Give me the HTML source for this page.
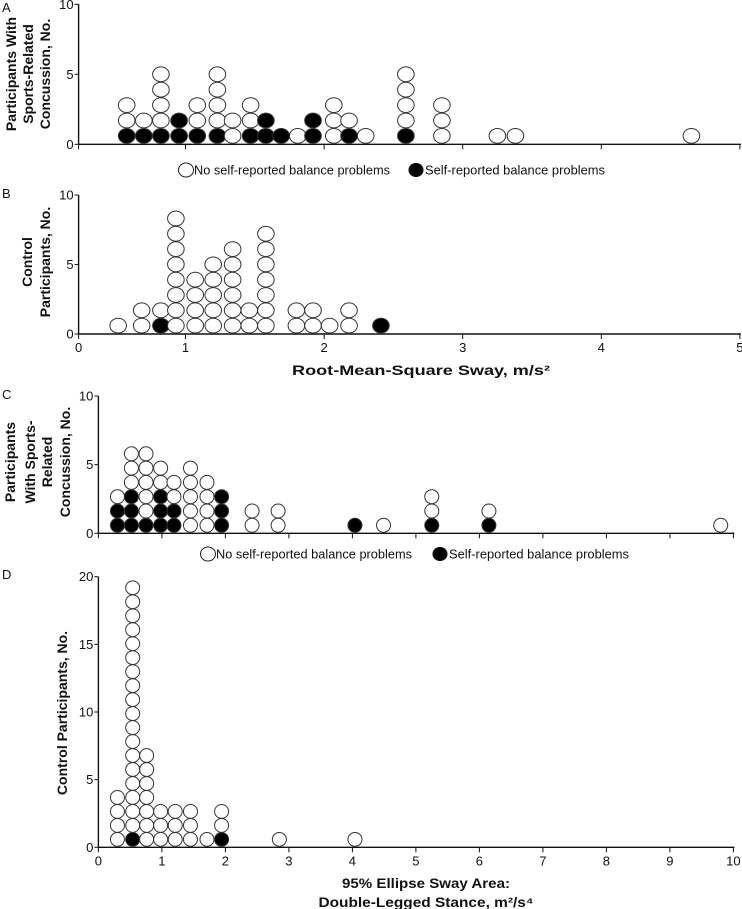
<!DOCTYPE html>
<html><head><meta charset="utf-8"><style>
body{margin:0;background:#fff}
svg{display:block;font-family:"Liberation Sans",sans-serif}
.t{font-size:13px;fill:#111}
.ti{font-size:14px;font-weight:bold;fill:#111}
.lg{font-size:12.5px;fill:#111}
</style></head><body>
<svg id="s" width="742" height="909" viewBox="0 0 742 909" xmlns="http://www.w3.org/2000/svg">
<text x="2" y="12" class="t">A</text>
<text x="2" y="198" class="t">B</text>
<text x="2" y="399" class="t">C</text>
<text x="2" y="579" class="t">D</text>
<g class="ti" text-anchor="middle">
<text transform="translate(16,74) rotate(-90)">Participants With</text>
<text transform="translate(33,74) rotate(-90)">Sports-Related</text>
<text transform="translate(50,74) rotate(-90)">Concussion, No.</text></g>
<g class="ti" text-anchor="middle">
<text transform="translate(32,262) rotate(-90)">Control</text>
<text transform="translate(50,262) rotate(-90)">Participants, No.</text></g>
<g class="ti" text-anchor="middle">
<text transform="translate(15,462) rotate(-90)">Participants</text>
<text transform="translate(35,462) rotate(-90)">With Sports-</text>
<text transform="translate(52,462) rotate(-90)">Related</text>
<text transform="translate(70,462) rotate(-90)">Concussion, No.</text></g>
<g class="ti" text-anchor="middle">
<text transform="translate(67,713) rotate(-90)">Control Participants, No.</text></g>
<text x="421" y="375" class="ti" text-anchor="middle" textLength="258" lengthAdjust="spacingAndGlyphs">Root-Mean-Square Sway, m/s²</text>
<text x="426" y="888" class="ti" text-anchor="middle" textLength="168" lengthAdjust="spacingAndGlyphs">95% Ellipse Sway Area:</text>
<text x="426" y="907" class="ti" text-anchor="middle" textLength="215" lengthAdjust="spacingAndGlyphs">Double-Legged Stance, m²/s⁴</text>
<g>
<ellipse cx="186" cy="170" rx="7.5" ry="7" fill="#fff" stroke="#222"/>
<text x="194" y="174.5" class="lg" textLength="196" lengthAdjust="spacingAndGlyphs">No self-reported balance problems</text>
<ellipse cx="416" cy="170" rx="7.5" ry="7" fill="#000"/>
<text x="425" y="174.5" class="lg" textLength="180" lengthAdjust="spacingAndGlyphs">Self-reported balance problems</text></g>
<g>
<ellipse cx="208" cy="554" rx="7.5" ry="7" fill="#fff" stroke="#222"/>
<text x="216" y="558.5" class="lg" textLength="196" lengthAdjust="spacingAndGlyphs">No self-reported balance problems</text>
<ellipse cx="440" cy="554" rx="7.5" ry="7" fill="#000"/>
<text x="449" y="558.5" class="lg" textLength="180" lengthAdjust="spacingAndGlyphs">Self-reported balance problems</text></g>
</svg>
<script>
const aX=[0.45,0.61,0.77,0.94,1.085,1.23,1.34,1.47,1.58,1.69,1.81,1.92,2.07,2.18,2.30,2.59,2.85,3.25,3.38,4.65];
const aStacks=["bww","bw","bwwww","bb","bww","bwwww","ww","bww","bb","b","w","bb","www","bw","w","bwwww","www","w","w","w"];
const bX=[0.37,0.59,0.77,0.91,1.07,1.20,1.34,1.46,1.58,1.80,1.92,2.04,2.18,2.41];
const bStacks=["w","ww","bw","wwwwwwww","wwww","wwwww","wwwwww","ww","wwwwwww","ww","ww","w","ww","b"];
const cX=[0.30,0.52,0.75,0.98,1.19,1.45,1.71,1.94,2.42,2.83,4.04,4.49,5.25,6.15,9.80];
const cStacks=["bbw","bbbwww","bwwwww","bbbww","bbww","wwwww","wwww","bbb","ww","ww","b","w","bww","bw","w"];
const dX=[0.30,0.54,0.76,0.98,1.21,1.45,1.71,1.94,2.85,4.04];
const dStacks=["wwww","bwwwwwwwwwwwwwwwwww","wwwwwww","www","www","www","w","bww","w","w"];
const abTicks=[0,1,2,3,4,5];
const cdTicks=[0,1,2,3,4,5,6,7,8,9,10];
const aYTicks=[0,5,10], dYTicks=[0,5,10,15,20];
const NS="http://www.w3.org/2000/svg", S=document.getElementById('s');
function mk(t,a,p){const e=document.createElementNS(NS,t);for(const k in a)e.setAttribute(k,a[k]);(p||S).appendChild(e);return e;}
function xAB(v){return v<1?78.6+106.9*v:185.5+138.6*(v-1);}
function xCD(v){return 98.4+63.5*v;}
function panel(P){
  const g=mk('g',{});
  
  
  const y=v=>P.y0-(P.y0-P.yTop)*v/P.yMax;
  const ax=mk('line',{x1:P.x(0),x2:P.x(P.xMax)+1,y1:P.y0,y2:P.y0,stroke:'#111','stroke-width':1.4},g);
  
  
  const ay=mk('line',{x1:P.x(0),x2:P.x(0),y1:P.y0,y2:P.yTop,stroke:'#111','stroke-width':1.4},g);
  
  
  P.xt.forEach(v=>{
    mk('line',{x1:P.x(v),x2:P.x(v),y1:P.y0,y2:P.y0+5,stroke:'#111'},g);
    if(P.xl){const t=mk('text',{x:P.x(v),y:P.y0+18,'text-anchor':'middle',class:'t'},g);t.textContent=v;
      
      }
  });
  P.yt.forEach(v=>{
    mk('line',{x1:P.x(0)-4,x2:P.x(0),y1:y(v),y2:y(v),stroke:'#111'},g);
    const t=mk('text',{x:P.x(0)-5,y:y(v)+4.5,'text-anchor':'end',class:'t'},g);t.textContent=v;
    
    
  });
  P.xs.forEach((v,i)=>{
    const st=P.st[i];
    for(let k=0;k<st.length;k++){
      const e=mk('ellipse',{cx:P.x(v),cy:P.y0-P.ry-1-k*P.sp,rx:P.rx,ry:P.ry,fill:st[k]==='b'?'#000':'#fff',stroke:'#333','stroke-width':1},g);
      
      
    }
  });
}
panel({name:'panel-a',x:xAB,xMax:5,y0:144.3,yTop:4.3,yMax:10,xt:abTicks,xl:false,yt:aYTicks,xs:aX,st:aStacks,rx:8.3,ry:7.4,sp:15.4});
panel({name:'panel-b',x:xAB,xMax:5,y0:334,yTop:195,yMax:10,xt:abTicks,xl:true,yt:aYTicks,xs:bX,st:bStacks,rx:8.3,ry:7.4,sp:15.3});
panel({name:'panel-c',x:xCD,xMax:10,y0:533.3,yTop:396,yMax:10,xt:cdTicks,xl:false,yt:aYTicks,xs:cX,st:cStacks,rx:7,ry:7,sp:14.3});
panel({name:'panel-d',x:xCD,xMax:10,y0:847.3,yTop:576.7,yMax:20,xt:cdTicks,xl:true,yt:dYTicks,xs:dX,st:dStacks,rx:7,ry:6.9,sp:13.98});
</script>
</body></html>
